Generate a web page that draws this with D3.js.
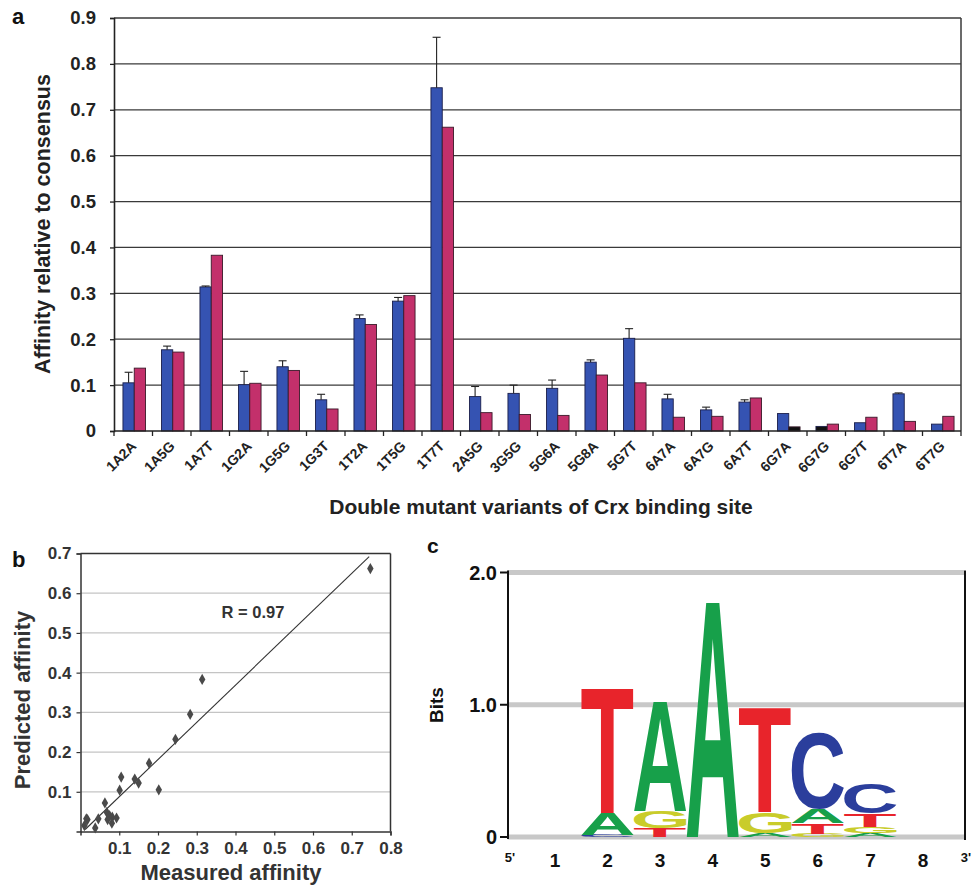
<!DOCTYPE html>
<html><head><meta charset="utf-8">
<script src="https://cdn.jsdelivr.net/npm/d3@7"></script>
<style>
html,body{margin:0;padding:0;background:#fff;}
svg{display:block;font-family:"Liberation Sans",Arial,sans-serif;}
</style></head>
<body>
<svg id="fig" width="974" height="888"></svg>
<script>
// ---------- DATA ----------
// Panel a
const categories = ["1A2A","1A5G","1A7T","1G2A","1G5G","1G3T","1T2A","1T5G","1T7T","2A5G","3G5G","5G6A","5G8A","5G7T","6A7A","6A7G","6A7T","6G7A","6G7G","6G7T","6T7A","6T7G"];
const measured  = [0.105,0.177,0.314,0.101,0.140,0.068,0.245,0.283,0.748,0.075,0.082,0.093,0.150,0.202,0.070,0.046,0.063,0.038,0.010,0.018,0.081,0.015];
const predicted = [0.137,0.172,0.383,0.104,0.132,0.048,0.232,0.295,0.662,0.040,0.036,0.034,0.122,0.105,0.030,0.032,0.072,0.009,0.015,0.030,0.021,0.032];
const errorUp   = [0.023,0.008,0.002,0.029,0.013,0.012,0.008,0.008,0.110,0.022,0.018,0.018,0.005,0.021,0.010,0.006,0.005,0.001,0.001,0.000,0.002,0.000];
const yTicksA = [0,0.1,0.2,0.3,0.4,0.5,0.6,0.7,0.8,0.9];
const darkMeasured = ["6G7G"];
const darkPredicted = ["6G7A"];
// Panel b
const xTicksB = [0.1,0.2,0.3,0.4,0.5,0.6,0.7,0.8];
const yTicksB = [0.1,0.2,0.3,0.4,0.5,0.6,0.7];
const fitX = [0.012, 0.745];
const fitY = [0.005, 0.692];
const rLabel = "R = 0.97";
// Panel c (stacks bottom -> top, heights in bits)
const logoPositions = [2,3,4,5,6,7];
const logoStacks = [
  [["C",0.015],["A",0.165],["T",0.955]],
  [["T",0.065],["G",0.13],["A",0.835]],
  [["A",1.80]],
  [["A",0.03],["G",0.16],["T",0.80]],
  [["G",0.025],["T",0.08],["A",0.105],["C",0.58]],
  [["A",0.03],["G",0.045],["T",0.10],["C",0.225]]
];
const logoXLabels = ["1","2","3","4","5","6","7","8"];
const logoYTicks = [0,1,2];
const logoYTickLabels = ["0","1.0","2.0"];

// ---------- DRAW ----------
const svg = d3.select("#fig");
const FONT = "'Liberation Sans', Arial, sans-serif";

// ===== Panel a =====
const ax = d3.scaleBand().domain(categories).range([114, 961]).paddingInner(0).paddingOuter(0);
const ay = d3.scaleLinear().domain([0, 0.9]).range([431, 18]);
const gA = svg.append("g");

gA.selectAll("line.grid").data(yTicksA.filter(d => d > 0)).join("line")
  .attr("x1", 114).attr("x2", 961)
  .attr("y1", d => ay(d)).attr("y2", d => ay(d))
  .attr("stroke", "#3a3a3a").attr("stroke-width", 1.3);
gA.append("line").attr("x1", 961).attr("x2", 961).attr("y1", ay(0.9)).attr("y2", ay(0))
  .attr("stroke", "#3a3a3a").attr("stroke-width", 1.5);

const barW = 11.3;
const rows = categories.map((c, i) => ({c, m: measured[i], p: predicted[i], e: errorUp[i]}));
const gBars = gA.append("g");
gBars.selectAll("rect.m").data(rows).join("rect")
  .attr("x", d => ax(d.c) + ax.bandwidth()/2 + 1 - barW)
  .attr("y", d => ay(d.m)).attr("width", barW).attr("height", d => ay(0) - ay(d.m))
  .attr("fill", d => darkMeasured.includes(d.c) ? "#111" : "#3553b2")
  .attr("stroke", "#1b1f4a").attr("stroke-width", 0.9);
gBars.selectAll("rect.p").data(rows).join("rect")
  .attr("x", d => ax(d.c) + ax.bandwidth()/2 + 1)
  .attr("y", d => ay(d.p)).attr("width", barW).attr("height", d => ay(0) - ay(d.p))
  .attr("fill", d => darkPredicted.includes(d.c) ? "#111" : "#c3306b")
  .attr("stroke", "#3a1a2a").attr("stroke-width", 0.9);
const gErr = gA.append("g").attr("stroke", "#222").attr("stroke-width", 1.1);
rows.filter(d => d.e > 0.0015).forEach(d => {
  const cx = ax(d.c) + ax.bandwidth()/2 + 1 - barW/2;
  gErr.append("line").attr("x1", cx).attr("x2", cx).attr("y1", ay(d.m)).attr("y2", ay(d.m + d.e));
  gErr.append("line").attr("x1", cx - 4).attr("x2", cx + 4).attr("y1", ay(d.m + d.e)).attr("y2", ay(d.m + d.e));
});

const yAxisA = gA.append("g").attr("transform", "translate(114,0)")
  .call(d3.axisLeft(ay).tickValues(yTicksA).tickFormat(d => d === 0 ? "0" : d3.format(".1f")(d)).tickSize(4).tickPadding(14));
yAxisA.select(".domain").attr("stroke", "#222").attr("stroke-width", 1.6);
yAxisA.selectAll(".tick line").attr("stroke", "#222").attr("stroke-width", 1.3);
yAxisA.selectAll("text").attr("font-family", FONT).attr("font-size", 18.5).attr("font-weight", "bold").attr("fill", "#222");

gA.append("line").attr("x1", 114).attr("x2", 961).attr("y1", 431).attr("y2", 431)
  .attr("stroke", "#222").attr("stroke-width", 1.6);
const bounds = categories.map(c => ax(c)).concat([ax(categories[categories.length-1]) + ax.bandwidth()]);
gA.selectAll("line.xt").data(bounds).join("line")
  .attr("x1", d => d).attr("x2", d => d).attr("y1", 431).attr("y2", 436)
  .attr("stroke", "#222").attr("stroke-width", 1.3);
gA.selectAll("text.xl").data(categories).join("text")
  .attr("transform", d => `translate(${ax(d) + ax.bandwidth()/2 + 4},447) rotate(-45)`)
  .attr("text-anchor", "end").attr("font-family", FONT).attr("font-size", 14).attr("font-weight", "bold").attr("fill", "#222")
  .text(d => d);

gA.append("text").attr("transform", "translate(50,224) rotate(-90)").attr("text-anchor", "middle")
  .attr("font-family", FONT).attr("font-size", 21.5).attr("font-weight", "bold").attr("fill", "#222")
  .text("Affinity relative to consensus");
gA.append("text").attr("x", 541).attr("y", 514).attr("text-anchor", "middle")
  .attr("font-family", FONT).attr("font-size", 21).attr("font-weight", "bold").attr("fill", "#222")
  .text("Double mutant variants of Crx binding site");
svg.append("text").attr("x", 12).attr("y", 24).attr("font-family", FONT).attr("font-size", 22).attr("font-weight", "bold").attr("fill", "#111").text("a");

// ===== Panel b =====
const bx = d3.scaleLinear().domain([0, 0.8]).range([80.5, 390.5]);
const by = d3.scaleLinear().domain([0, 0.7]).range([831.5, 553.5]);
const gB = svg.append("g");
gB.selectAll("line.g").data(yTicksB.filter(d => d < 0.7)).join("line")
  .attr("x1", bx(0)).attr("x2", bx(0.8)).attr("y1", d => by(d)).attr("y2", d => by(d))
  .attr("stroke", "#c4c4c4").attr("stroke-width", 1.2);
gB.append("line").attr("x1", bx(0)).attr("x2", bx(0.8)).attr("y1", by(0.7)).attr("y2", by(0.7)).attr("stroke", "#333").attr("stroke-width", 1.5);
gB.append("line").attr("x1", bx(0.8)).attr("x2", bx(0.8)).attr("y1", by(0.7)).attr("y2", by(0)).attr("stroke", "#333").attr("stroke-width", 1.5);
const xAxisB = gB.append("g").attr("transform", `translate(0,${by(0)})`)
  .call(d3.axisBottom(bx).tickValues(xTicksB).tickFormat(d3.format(".1f")).tickSize(4).tickPadding(6));
const yAxisB = gB.append("g").attr("transform", `translate(${bx(0)},0)`)
  .call(d3.axisLeft(by).tickValues(yTicksB).tickFormat(d3.format(".1f")).tickSize(4).tickPadding(5));
[xAxisB, yAxisB].forEach(a => {
  a.select(".domain").attr("stroke", "#333").attr("stroke-width", 1.5);
  a.selectAll(".tick line").attr("stroke", "#333").attr("stroke-width", 1.2);
  a.selectAll("text").attr("font-family", FONT).attr("font-size", 17).attr("font-weight", "bold").attr("fill", "#333");
});
gB.append("line").attr("x1", bx(fitX[0])).attr("y1", by(fitY[0])).attr("x2", bx(fitX[1])).attr("y2", by(fitY[1]))
  .attr("stroke", "#333").attr("stroke-width", 1.1);
gB.selectAll("path.pt").data(rows).join("path")
  .attr("d", d3.symbol().type(d3.symbolDiamond).size(36))
  .attr("transform", d => `translate(${bx(d.m)},${by(d.p)})`)
  .attr("fill", "#4a4a4a");
gB.append("text").attr("x", 253).attr("y", 618).attr("text-anchor", "middle")
  .attr("font-family", FONT).attr("font-size", 16.5).attr("font-weight", "bold").attr("fill", "#333").text(rLabel);
gB.append("text").attr("transform", "translate(30,700) rotate(-90)").attr("text-anchor", "middle")
  .attr("font-family", FONT).attr("font-size", 22).attr("font-weight", "bold").attr("fill", "#333").text("Predicted affinity");
gB.append("text").attr("x", 231).attr("y", 880).attr("text-anchor", "middle")
  .attr("font-family", FONT).attr("font-size", 22).attr("font-weight", "bold").attr("fill", "#333").text("Measured affinity");
svg.append("text").attr("x", 12).attr("y", 567).attr("font-family", FONT).attr("font-size", 22).attr("font-weight", "bold").attr("fill", "#111").text("b");

// ===== Panel c =====
const cx = d3.scaleLinear().domain([1, 8]).range([555, 923]);
const cy = d3.scaleLinear().domain([0, 2]).range([837, 572.5]);
const step = cx(2) - cx(1);
const gC = svg.append("g");
const leftX = 508, rightX = 965;
gC.selectAll("line.cg").data(logoYTicks).join("line")
  .attr("x1", leftX).attr("x2", rightX - 1).attr("y1", d => cy(d)).attr("y2", d => cy(d))
  .attr("stroke", "#c8c8c8").attr("stroke-width", 5);
gC.append("line").attr("x1", rightX).attr("x2", rightX).attr("y1", cy(2) - 2).attr("y2", cy(0) + 3).attr("stroke", "#111").attr("stroke-width", 2);

const colors = {A: "#17a04a", C: "#2b3e9c", G: "#c9cc2a", T: "#e8242b"};
const ctx = document.createElement("canvas").getContext("2d");
const FS = 100;
ctx.font = `bold ${FS}px "Liberation Sans"`;
const metrics = {};
["A","C","G","T"].forEach(l => {
  const m = ctx.measureText(l);
  metrics[l] = {left: m.actualBoundingBoxLeft, right: m.actualBoundingBoxRight, asc: m.actualBoundingBoxAscent, desc: m.actualBoundingBoxDescent};
});
const gLogo = gC.append("g");
logoStacks.forEach((stack, i) => {
  const pos = logoPositions[i];
  const x0 = cx(pos) - step/2;
  let base = 0;
  stack.forEach(([l, h]) => {
    const yTop = cy(base + h), yBot = cy(base);
    const m = metrics[l];
    const sx = step / (m.left + m.right), sy = (yBot - yTop) / (m.asc + m.desc);
    gLogo.append("text")
      .attr("transform", `translate(${x0},${yTop}) scale(${sx},${sy}) translate(${m.left},${m.asc})`)
      .attr("font-family", '"Liberation Sans"').attr("font-weight", "bold").attr("font-size", FS)
      .attr("fill", colors[l]).text(l);
    base += h;
  });
});

gC.append("line").attr("x1", leftX).attr("x2", leftX).attr("y1", cy(2) - 2).attr("y2", cy(0) + 2).attr("stroke", "#111").attr("stroke-width", 2);
gC.selectAll("line.ct").data(logoYTicks).join("line")
  .attr("x1", leftX - 8).attr("x2", leftX).attr("y1", d => cy(d)).attr("y2", d => cy(d))
  .attr("stroke", "#111").attr("stroke-width", 2);
gC.selectAll("text.cyl").data(logoYTicks).join("text")
  .attr("x", leftX - 11).attr("y", d => cy(d) + 7).attr("text-anchor", "end")
  .attr("font-family", FONT).attr("font-size", 20).attr("font-weight", "bold").attr("fill", "#111")
  .text((d, i) => logoYTickLabels[i]);
gC.append("text").attr("transform", "translate(443,705) rotate(-90)").attr("text-anchor", "middle")
  .attr("font-family", FONT).attr("font-size", 19).attr("font-weight", "bold").attr("fill", "#111").text("Bits");
gC.selectAll("text.cxl").data(logoXLabels).join("text")
  .attr("x", d => cx(+d)).attr("y", 867).attr("text-anchor", "middle")
  .attr("font-family", FONT).attr("font-size", 19).attr("font-weight", "bold").attr("fill", "#111").text(d => d);
gC.append("text").attr("x", 510).attr("y", 862).attr("text-anchor", "middle")
  .attr("font-family", FONT).attr("font-size", 13).attr("font-weight", "bold").attr("fill", "#111").text("5'");
gC.append("text").attr("x", 966).attr("y", 862).attr("text-anchor", "middle")
  .attr("font-family", FONT).attr("font-size", 13).attr("font-weight", "bold").attr("fill", "#111").text("3'");
svg.append("text").attr("x", 427).attr("y", 553).attr("font-family", FONT).attr("font-size", 21).attr("font-weight", "bold").attr("fill", "#111").text("c");
</script>
</body></html>
